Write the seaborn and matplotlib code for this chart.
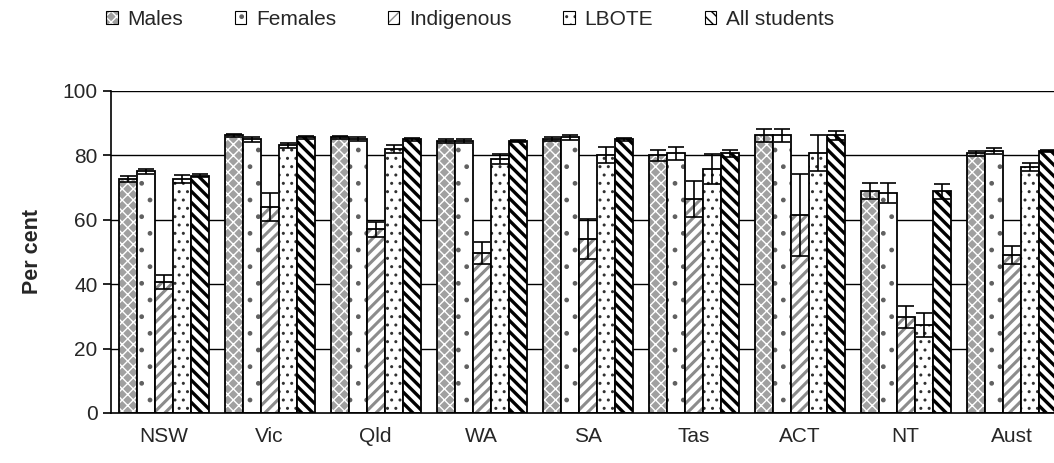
import matplotlib
matplotlib.use("Agg")
import matplotlib.pyplot as plt
from matplotlib.patches import Patch
from matplotlib.colors import to_rgba
import seaborn as sns
import pandas as pd

states = ["NSW", "Vic", "Qld", "WA", "SA", "Tas", "ACT", "NT", "Aust"]
groups = ["Males", "Females", "Indigenous", "LBOTE", "All students"]

males = [72.6, 86.2, 85.6, 84.4, 85.0, 80.0, 86.2, 68.8, 80.6]
females = [75.0, 85.0, 85.0, 84.4, 85.6, 80.6, 86.2, 68.2, 81.3]
indigenous = [40.8, 63.9, 57.0, 49.6, 53.9, 66.4, 61.4, 29.7, 49.0]
lbote = [72.6, 83.1, 81.9, 78.8, 80.0, 75.7, 80.6, 27.2, 76.3]
all_students = [73.7, 85.6, 85.0, 84.4, 85.0, 80.6, 86.2, 68.8, 81.3]

males_err = [1.0, 0.5, 0.4, 0.7, 0.6, 1.6, 1.9, 2.5, 0.9]
females_err = [0.8, 0.8, 0.6, 0.6, 0.8, 1.9, 2.0, 3.1, 0.9]
indigenous_err = [2.2, 4.3, 2.2, 3.4, 6.2, 5.6, 12.7, 3.4, 2.8]
lbote_err = [1.3, 0.7, 1.3, 1.6, 2.5, 4.7, 5.6, 3.7, 1.2]
all_err = [0.5, 0.4, 0.4, 0.3, 0.4, 1.2, 1.5, 2.2, 0.4]

values = [males, females, indigenous, lbote, all_students]
errors = [males_err, females_err, indigenous_err, lbote_err, all_err]

rows = []
for g, vals in zip(groups, values):
    for s, v in zip(states, vals):
        rows.append({"State": s, "Group": g, "Value": v})
df = pd.DataFrame(rows)

sns.set_style("white")
plt.rcParams["font.family"] = ["Liberation Sans", "DejaVu Sans"]
plt.rcParams["hatch.linewidth"] = 1.0

fig = plt.figure(figsize=(10.54, 4.63), dpi=100)
ax = fig.add_axes([0.105, 0.108, 0.905, 0.6955])

sns.barplot(data=df, x="State", y="Value", hue="Group", order=states,
            hue_order=groups, errorbar=None, width=0.85, gap=0,
            ax=ax, legend=False, zorder=3)

styles = [
    dict(face="#a0a0a0", hatch="xxx", hcol="white", hlw=1.0),
    dict(face="white", hatch=".", hcol="#606060", hlw=1.0),
    dict(face="white", hatch="///", hcol="#8c8c8c", hlw=2.2),
    dict(face="white", hatch="..", hcol="#303030", hlw=1.0),
    dict(face="white", hatch="\\\\\\", hcol="black", hlw=2.4),
]


def style_patch(p, st, lw):
    p.set_facecolor(st["face"])
    p.set_edgecolor("black")
    p.set_linewidth(lw)
    p.set_hatch(st["hatch"])
    p._hatch_color = to_rgba(st["hcol"])
    if hasattr(p, "set_hatch_linewidth"):
        p.set_hatch_linewidth(st["hlw"])


for cont, st, err in zip(ax.containers, styles, errors):
    for bar, e in zip(cont, err):
        style_patch(bar, st, 1.3)
        x, w, h = bar.get_x(), bar.get_width(), bar.get_height()
        ax.errorbar(x + w / 2, h, yerr=e, color="black", linewidth=1.2,
                    capsize=6, capthick=1.2, zorder=5)

ax.set_ylim(0, 100)
ax.set_xlim(-0.5, len(states) - 0.5)
ax.set_yticks([0, 20, 40, 60, 80, 100])
for yv in [20, 40, 60, 80, 100]:
    ax.axhline(yv, color="black", linewidth=1.0, zorder=1)

for sp in ["top", "right"]:
    ax.spines[sp].set_visible(False)
for sp in ["left", "bottom"]:
    ax.spines[sp].set_color("black")
    ax.spines[sp].set_linewidth(1.2)
    ax.spines[sp].set_zorder(6)

ax.set_xticks([i - 0.5 for i in range(len(states) + 1)], minor=True)
ax.tick_params(axis="x", which="major", length=0, labelsize=15, pad=10)
ax.tick_params(axis="x", which="minor", length=7, width=1.2, direction="out", color="black")
ax.tick_params(axis="y", which="major", length=6, width=1.2, direction="out",
               color="black", labelsize=15, left=True)
ax.set_xlabel("")
ax.set_ylabel("Per cent", fontsize=15.5, fontweight="bold", labelpad=14)

handles = []
for g, st in zip(groups, styles):
    p = Patch(label=g)
    style_patch(p, st, 0.8)
    handles.append(p)
fig.legend(handles=handles, loc="center", bbox_to_anchor=(0.446, 0.958), ncol=5,
           frameon=False, fontsize=15, handlelength=0.55, handleheight=0.55,
           handletextpad=0.45, columnspacing=2.5)

fig.savefig("out.png", dpi=100)
